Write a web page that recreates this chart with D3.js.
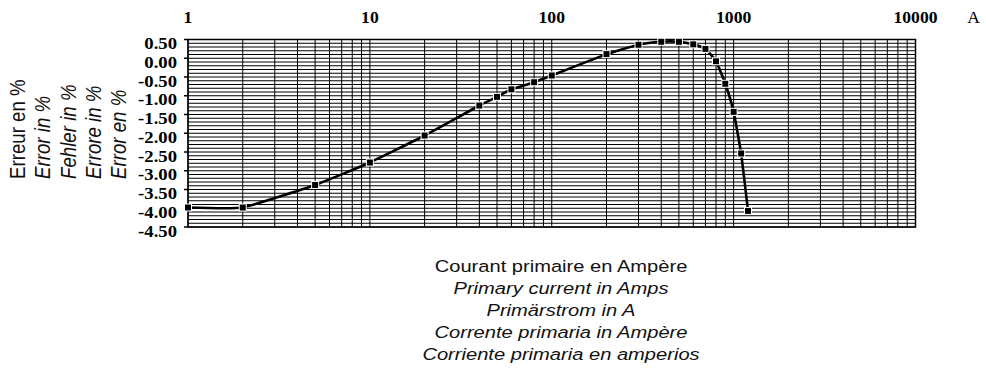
<!DOCTYPE html>
<html>
<head>
<meta charset="utf-8">
<script src="https://cdn.jsdelivr.net/npm/d3@7"></script>
<style>
  body { margin: 0; background: #fff; }
  svg { display: block; }
</style>
</head>
<body>
<svg id="chart-svg" width="986" height="380"></svg>
<script>
// primary current (A) and ratio error (%)
const current = [1, 2, 5, 10, 20, 40, 50, 60, 80, 100, 200, 300, 400, 500, 600, 700, 800, 900, 1000, 1100, 1200];
const errorPct = [-3.98, -3.98, -3.38, -2.78, -2.06, -1.26, -1.03, -0.83, -0.64, -0.46, 0.11, 0.36, 0.44, 0.44, 0.37, 0.25, -0.08, -0.68, -1.43, -2.54, -4.07];

const xTicks = [1, 10, 100, 1000, 10000];
const yTicks = [0.5, 0, -0.5, -1, -1.5, -2, -2.5, -3, -3.5, -4, -4.5];
const yLabels = ["Erreur en %", "Error in %", "Fehler in %", "Errore in %", "Error en %"];
const xLabels = ["Courant primaire en Ampère", "Primary current in Amps", "Primärstrom in A",
  "Corrente primaria in Ampère", "Corriente primaria en amperios"];

const svg = d3.select("#chart-svg");
const plot = { left: 188, right: 915.5, top: 39.5, bottom: 227 };

const x = d3.scaleLog().domain([1, 10000]).range([plot.left, plot.right]);
const y = d3.scaleLinear().domain([-4.5, 0.5]).range([plot.bottom, plot.top]);

// grid: log minor lines, horizontal every 0.1
const vLines = [];
for (let dec = 1; dec < 10000; dec *= 10) {
  for (let k = 1; k <= 9; k++) vLines.push(dec * k);
}
const hLines = d3.range(0, 51).map(i => -4.5 + i * 0.1);

const grid = svg.append("g").attr("stroke", "#000").attr("stroke-width", 1);
grid.selectAll("line.h").data(hLines).join("line")
  .attr("class", "h")
  .attr("x1", plot.left).attr("x2", plot.right)
  .attr("y1", d => y(d)).attr("y2", d => y(d));
grid.selectAll("line.v").data(vLines).join("line")
  .attr("class", "v")
  .attr("x1", d => x(d)).attr("x2", d => x(d))
  .attr("y1", plot.top).attr("y2", plot.bottom);

svg.append("rect")
  .attr("x", plot.left).attr("y", plot.top)
  .attr("width", plot.right - plot.left).attr("height", plot.bottom - plot.top)
  .attr("fill", "none").attr("stroke", "#000").attr("stroke-width", 1.5);

// left axis ticks + labels
svg.append("g").selectAll("line").data(yTicks).join("line")
  .attr("x1", plot.left - 4).attr("x2", plot.left)
  .attr("y1", d => y(d)).attr("y2", d => y(d))
  .attr("stroke", "#000").attr("stroke-width", 1.5);

svg.append("g").selectAll("text").data(yTicks).join("text")
  .attr("transform", d => `translate(177,${y(d) + 9.5}) scale(1.1,1)`)
  .attr("text-anchor", "end")
  .style("font-family", "'Liberation Serif', 'Times New Roman', serif")
  .style("font-weight", "bold")
  .style("font-size", "17px")
  .text(d => d.toFixed(2));

// top axis labels
svg.append("g").selectAll("text").data(xTicks).join("text")
  .attr("transform", d => `translate(${x(d)},23) scale(1.1,1)`)
  .attr("text-anchor", "middle")
  .style("font-family", "'Liberation Serif', 'Times New Roman', serif")
  .style("font-weight", "bold")
  .style("font-size", "16px")
  .text(d => d);

svg.append("text")
  .attr("transform", "translate(973.5,23) scale(1.1,1)")
  .attr("text-anchor", "middle")
  .style("font-family", "'Liberation Serif', 'Times New Roman', serif")
  .style("font-size", "16px")
  .text("A");

// rotated y titles
svg.append("g").selectAll("text").data(yLabels).join("text")
  .attr("transform", (d, i) => `translate(${25 + i * 25.3},179) scale(1.15,1) rotate(-90)`)
  .style("font-family", "'Liberation Sans', Arial, sans-serif")
  .style("font-size", "18.7px")
  .style("font-style", (d, i) => i === 0 ? "normal" : "italic")
  .attr("fill", "#111")
  .text(d => d);

// x titles below
svg.append("g").selectAll("text").data(xLabels).join("text")
  .attr("transform", (d, i) => `translate(561,${272 + i * 21.9}) scale(1.22,1)`)
  .attr("text-anchor", "middle")
  .style("font-family", "'Liberation Sans', Arial, sans-serif")
  .style("font-size", "16.5px")
  .style("font-style", (d, i) => i === 0 ? "normal" : "italic")
  .attr("fill", "#111")
  .text(d => d);

// curve
const pts = current.map((c, i) => ({ c, e: errorPct[i] }));
const line = d3.line()
  .x(d => x(d.c))
  .y(d => y(d.e))
  .curve(d3.curveCardinal.tension(0.6));

svg.append("path")
  .attr("d", line(pts))
  .attr("fill", "none")
  .attr("stroke", "#000")
  .attr("stroke-width", 2.6);

svg.append("g").selectAll("rect").data(pts).join("rect")
  .attr("x", d => x(d.c) - 3.5).attr("y", d => y(d.e) - 3.5)
  .attr("width", 7).attr("height", 7)
  .attr("fill", "#000").attr("stroke", "#fff").attr("stroke-width", 1);
</script>
</body>
</html>
